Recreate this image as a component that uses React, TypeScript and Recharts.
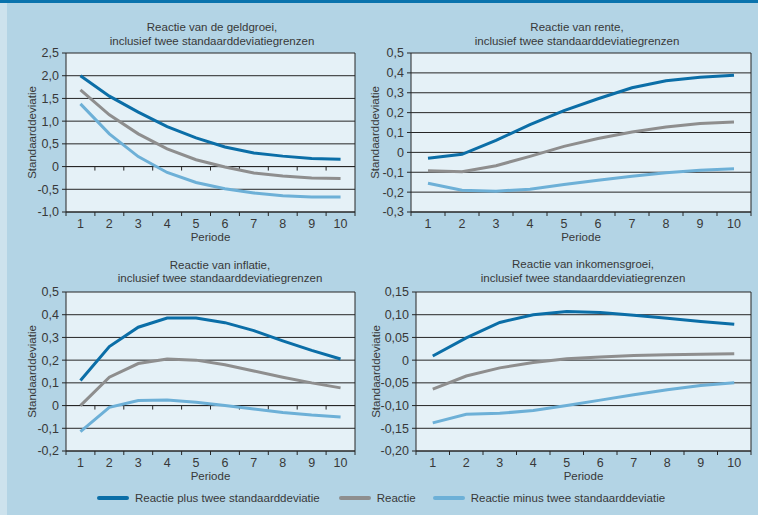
import React from 'react';
import { LineChart, Line, XAxis, YAxis, CartesianGrid, ReferenceLine } from 'recharts';

// ---------- DATA ----------
const periods = [1, 2, 3, 4, 5, 6, 7, 8, 9, 10];
const seriesNames = [
  'Reactie plus twee standaarddeviatie',
  'Reactie',
  'Reactie minus twee standaarddeviatie',
];

// Reactie van de geldgroei
const geldPlus = [2.0, 1.55, 1.2, 0.88, 0.63, 0.43, 0.3, 0.23, 0.18, 0.16];
const geldReactie = [1.69, 1.14, 0.72, 0.39, 0.15, -0.01, -0.14, -0.21, -0.25, -0.26];
const geldMinus = [1.38, 0.72, 0.22, -0.13, -0.35, -0.49, -0.58, -0.64, -0.67, -0.67];
const geldTicks = [-1, -0.5, 0, 0.5, 1, 1.5, 2, 2.5];

// Reactie van rente
const rentePlus = [-0.03, -0.01, 0.06, 0.14, 0.21, 0.27, 0.325, 0.36, 0.378, 0.388];
const renteReactie = [-0.093, -0.097, -0.067, -0.02, 0.03, 0.07, 0.102, 0.128, 0.145, 0.153];
const renteMinus = [-0.155, -0.19, -0.195, -0.185, -0.162, -0.14, -0.12, -0.102, -0.09, -0.083];
const renteTicks = [-0.3, -0.2, -0.1, 0, 0.1, 0.2, 0.3, 0.4, 0.5];

// Reactie van inflatie
const inflatiePlus = [0.11, 0.26, 0.345, 0.385, 0.385, 0.365, 0.33, 0.285, 0.243, 0.205];
const inflatieReactie = [0.0, 0.125, 0.185, 0.205, 0.2, 0.18, 0.152, 0.125, 0.1, 0.078];
const inflatieMinus = [-0.115, -0.008, 0.022, 0.025, 0.015, 0.0, -0.015, -0.03, -0.042, -0.05];
const inflatieTicks = [-0.2, -0.1, 0, 0.1, 0.2, 0.3, 0.4, 0.5];

// Reactie van inkomensgroei
const inkomenPlus = [0.009, 0.049, 0.083, 0.1, 0.107, 0.105, 0.099, 0.092, 0.085, 0.079];
const inkomenReactie = [-0.064, -0.035, -0.017, -0.005, 0.003, 0.007, 0.01, 0.012, 0.013, 0.014];
const inkomenMinus = [-0.138, -0.119, -0.117, -0.111, -0.1, -0.088, -0.076, -0.065, -0.056, -0.05];
const inkomenTicks = [-0.2, -0.15, -0.1, -0.05, 0, 0.05, 0.1, 0.15];

const xTicks = [0.5, 1, 1.5, 2, 2.5, 3, 3.5, 4, 4.5, 5, 5.5, 6, 6.5, 7, 7.5, 8, 8.5, 9, 9.5, 10, 10.5];

// ---------- STYLE ----------
const FONT = '"Liberation Sans", Arial, sans-serif';
const TEXT = '#383838';
const AXIS = '#262626';
const BG = '#b3d4e5';
const PLOT_BG = '#e5f1f7';
const COLORS = ['#0b6ea7', '#8e8e8e', '#6db0d7'];

const fmt = (v: number, dec: number) => (v === 0 ? '0' : v.toFixed(dec).replace('.', ','));

const buildRows = (a: number[], b: number[], c: number[]) =>
  periods.map((p, i) => ({ p, plus: a[i], reactie: b[i], minus: c[i] }));

const renderXTick = (props: any) => {
  const { x, y, payload } = props;
  const v = payload.value;
  if (Number.isInteger(v)) {
    return (
      <text x={x} y={y + 15.5} textAnchor="middle" fill={TEXT} fontSize={12.5} fontFamily={FONT}>
        {v}
      </text>
    );
  }
  return <line x1={x} x2={x} y1={y} y2={y + 4} stroke={AXIS} strokeWidth={1} />;
};

const zeroShape = (p: any) => {
  const n = periods.length;
  const step = (p.x2 - p.x1) / n;
  return (
    <g>
      <line x1={p.x1} y1={p.y1} x2={p.x2} y2={p.y2} stroke={AXIS} strokeWidth={1} />
      {periods.slice(0, n - 1).map((_, k) => (
        <line
          key={k}
          x1={p.x1 + (k + 1) * step}
          x2={p.x1 + (k + 1) * step}
          y1={p.y1}
          y2={p.y1 + 4}
          stroke={AXIS}
          strokeWidth={1}
        />
      ))}
    </g>
  );
};

type PanelProps = {
  title: [string, string];
  titleCx: number;
  titleY: [number, number];
  rows: any[];
  ticks: number[];
  dec: number;
  plot: { left: number; top: number; width: number; height: number };
  yLabelX: number;
  zeroTicks: boolean;
};

const YW = 66;
const TOPM = 10;
const RIGHTM = 8;
const XH = 40;

const Panel = ({ title, titleCx, titleY, rows, ticks, dec, plot, yLabelX, zeroTicks }: PanelProps) => {
  const chartLeft = plot.left - YW;
  return (
    <>
      {title.map((t, i) => (
        <div
          key={i}
          style={{
            position: 'absolute',
            left: titleCx - 160,
            width: 320,
            top: titleY[i] - 7,
            height: 14,
            lineHeight: '14px',
            textAlign: 'center',
            fontSize: 11.5,
            color: TEXT,
            fontFamily: FONT,
            whiteSpace: 'nowrap',
          }}
        >
          {t}
        </div>
      ))}
      <div style={{ position: 'absolute', left: chartLeft, top: plot.top - TOPM }}>
        <LineChart
          width={plot.width + YW + RIGHTM}
          height={plot.height + TOPM + XH}
          data={rows}
          margin={{ top: TOPM, right: RIGHTM, bottom: 0, left: 0 }}
        >
          <CartesianGrid vertical={false} fill={PLOT_BG} fillOpacity={1} stroke={AXIS} strokeWidth={1} />
          <XAxis
            dataKey="p"
            type="number"
            domain={[0.5, 10.5]}
            ticks={xTicks}
            interval={0}
            tickLine={false}
            tickSize={0}
            tickMargin={0}
            height={XH}
            axisLine={{ stroke: AXIS }}
            tick={renderXTick}
            label={{ value: 'Periode', position: 'insideBottom', offset: 11, fill: TEXT, fontSize: 11.5, fontFamily: FONT }}
          />
          <YAxis
            type="number"
            domain={[ticks[0], ticks[ticks.length - 1]]}
            ticks={ticks}
            interval={0}
            width={YW}
            tickSize={4}
            tickMargin={3}
            tickLine={{ stroke: AXIS }}
            axisLine={{ stroke: AXIS }}
            tickFormatter={(v: number) => fmt(v, dec)}
            tick={{ fill: TEXT, fontSize: 12.5, fontFamily: FONT }}
            label={{
              value: 'Standaarddeviatie',
              angle: -90,
              position: 'insideLeft',
              offset: yLabelX - chartLeft,
              style: { textAnchor: 'middle' },
              fill: TEXT,
              fontSize: 11.5,
              fontFamily: FONT,
            }}
          />
          <ReferenceLine x={10.5} stroke={AXIS} strokeWidth={1} />
          {zeroTicks && <ReferenceLine y={0} shape={zeroShape} />}
          <Line dataKey="reactie" name={seriesNames[1]} stroke={COLORS[1]} strokeWidth={3} dot={false} isAnimationActive={false} />
          <Line dataKey="minus" name={seriesNames[2]} stroke={COLORS[2]} strokeWidth={3} dot={false} isAnimationActive={false} />
          <Line dataKey="plus" name={seriesNames[0]} stroke={COLORS[0]} strokeWidth={3} dot={false} isAnimationActive={false} />
        </LineChart>
      </div>
    </>
  );
};

const LegendItem = ({ color, label, gap }: { color: string; label: string; gap: number }) => (
  <div style={{ display: 'flex', alignItems: 'center', marginRight: gap }}>
    <div style={{ width: 32, height: 3.5, borderRadius: 2, background: color, marginRight: 6 }} />
    <span style={{ fontSize: 11.5, color: TEXT, fontFamily: FONT, whiteSpace: 'nowrap' }}>{label}</span>
  </div>
);

export default function App() {
  return (
    <div
      style={{
        position: 'absolute',
        left: 0,
        top: 0,
        width: 758,
        height: 515,
        background: BG,
        overflow: 'hidden',
        fontFamily: FONT,
      }}
    >
      <div style={{ position: 'absolute', left: 0, top: 0, width: 7, height: 515, background: '#cde2ed' }} />
      <div style={{ position: 'absolute', left: 0, top: 0, width: 758, height: 3, background: '#0a73ad' }} />

      <Panel
        title={['Reactie van de geldgroei,', 'inclusief twee standaarddeviatiegrenzen']}
        titleCx={212}
        titleY={[26.5, 40.5]}
        rows={buildRows(geldPlus, geldReactie, geldMinus)}
        ticks={geldTicks}
        dec={1}
        plot={{ left: 66, top: 53, width: 289, height: 159 }}
        yLabelX={32}
        zeroTicks={true}
      />
      <Panel
        title={['Reactie van rente,', 'inclusief twee standaarddeviatiegrenzen']}
        titleCx={577}
        titleY={[26.5, 40.5]}
        rows={buildRows(rentePlus, renteReactie, renteMinus)}
        ticks={renteTicks}
        dec={1}
        plot={{ left: 411, top: 53, width: 340, height: 159 }}
        yLabelX={375}
        zeroTicks={false}
      />
      <Panel
        title={['Reactie van inflatie,', 'inclusief twee standaarddeviatiegrenzen']}
        titleCx={220}
        titleY={[264.5, 277.5]}
        rows={buildRows(inflatiePlus, inflatieReactie, inflatieMinus)}
        ticks={inflatieTicks}
        dec={1}
        plot={{ left: 66, top: 292, width: 289, height: 159 }}
        yLabelX={32}
        zeroTicks={true}
      />
      <Panel
        title={['Reactie van inkomensgroei,', 'inclusief twee standaarddeviatiegrenzen']}
        titleCx={583}
        titleY={[263.5, 277.5]}
        rows={buildRows(inkomenPlus, inkomenReactie, inkomenMinus)}
        ticks={inkomenTicks}
        dec={2}
        plot={{ left: 416, top: 292, width: 335, height: 159 }}
        yLabelX={376}
        zeroTicks={false}
      />

      <div style={{ position: 'absolute', left: 97, top: 490, height: 16, display: 'flex', alignItems: 'center' }}>
        <LegendItem color={COLORS[0]} label={seriesNames[0]} gap={19} />
        <LegendItem color={COLORS[1]} label={seriesNames[1]} gap={17} />
        <LegendItem color={COLORS[2]} label={seriesNames[2]} gap={0} />
      </div>
    </div>
  );
}
